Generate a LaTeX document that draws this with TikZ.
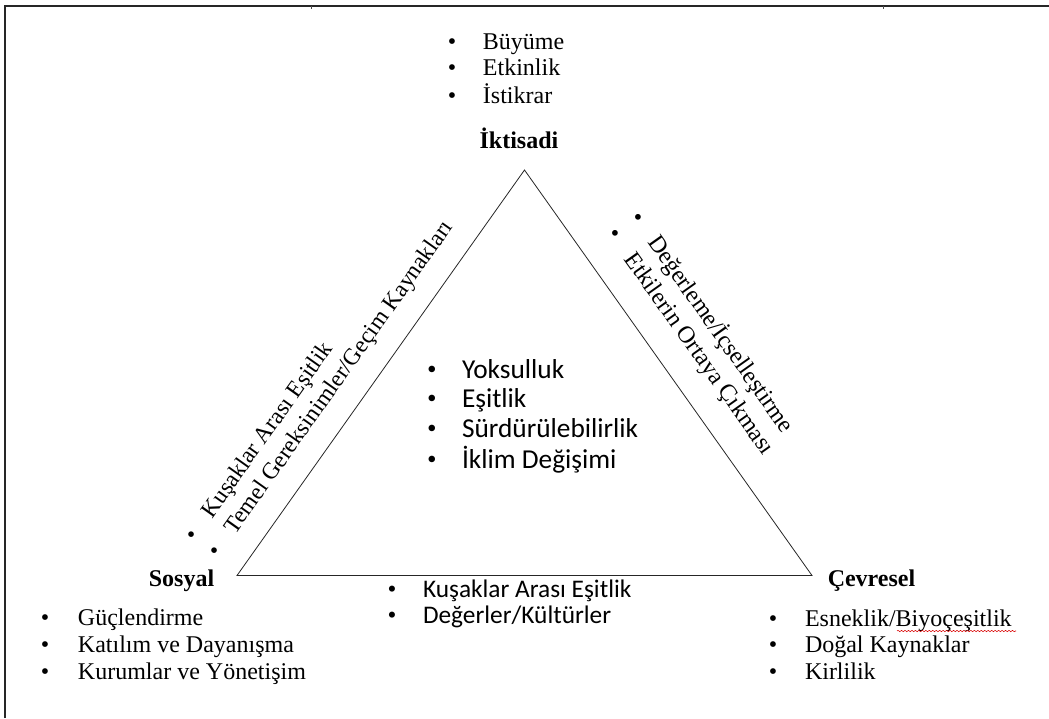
\documentclass[tikz,border=0pt]{standalone}
\usepackage{fontspec}
\setmainfont{Liberation Serif}
\newfontfamily\carlito{Carlito}
\usetikzlibrary{decorations.pathmorphing}

% one pixel of the drawing grid
\newlength\pxu
\setlength\pxu{0.75pt}
% serif bullet centred on the column start, text after a fixed gap
\newcommand\bitem[1]{\makebox[0pt]{\rmfamily\textbullet}\hspace{#1\pxu}}

\tikzset{
  every node/.style={inner sep=0pt, outer sep=0pt},
  heading/.style={anchor=base, font=\fontsize{18}{20}\selectfont\bfseries},
  blist/.style={anchor=base west, align=left},
  edge/.style={line width=0.6pt, draw=black!85},
}

\begin{document}
\begin{tikzpicture}[x=0.75pt, y=-0.75pt]
  \useasboundingbox (0,0) rectangle (1049,718);

  % page frame (top and left rules of the surrounding table)
  \draw[line width=1.6pt, black!85] (5,718) -- (5,6) -- (1049,6);
  \draw[line width=0.5pt, black!70] (311,6) -- (311,9);
  \draw[line width=0.5pt, black!70] (883,6) -- (883,9);

  % corners of the triangle
  \coordinate (apex) at (524.5,170);
  \coordinate (sv) at (237,575.5);
  \coordinate (cv) at (812,575.5);
  \draw[edge] (apex) -- (sv) -- (cv) -- cycle;

  % vertex headings
  \node[heading] (iktisadi) at (519,148) {İktisadi};
  \node[heading] (sosyal) at (181.5,586) {Sosyal};
  \node[heading] (cevresel) at (871.5,586) {Çevresel};

  % economic aims
  \node[blist, font=\fontsize{18}{19.9}\selectfont] (ecolist) at (452,49) {%
    \begin{tabular}[t]{@{}l@{}}
      \bitem{31}Büyüme\\
      \bitem{31}Etkinlik\\
      \bitem{31}İstikrar
    \end{tabular}};

  % social aims
  \node[blist, font=\fontsize{18}{20.6}\selectfont] (soclist) at (45,625) {%
    \begin{tabular}[t]{@{}l@{}}
      \bitem{33}Güçlendirme\\
      \bitem{33}Katılım ve Dayanışma\\
      \bitem{33}Kurumlar ve Yönetişim
    \end{tabular}};

  % environmental aims
  \node[blist, font=\fontsize{18}{19.9}\selectfont] (envlist) at (773,626) {%
    \begin{tabular}[t]{@{}l@{}}
      \bitem{32}Esneklik/Biyoçeşitlik\\
      \bitem{32}Doğal Kaynaklar\\
      \bitem{32}Kirlilik
    \end{tabular}};
  \draw[red!85!black, line width=0.4pt, decorate,
        decoration={snake, amplitude=0.5pt, segment length=2.6pt}]
    (897,631) -- (1016,631);

  % shared issues in the middle
  \node[blist, font=\carlito\fontsize{20.5}{22.35}\selectfont] (corelist) at (432,378) {%
    \begin{tabular}[t]{@{}l@{}}
      \bitem{30}Yoksulluk\\
      \bitem{30}Eşitlik\\
      \bitem{30}Sürdürülebilirlik\\
      \bitem{30}İklim Değişimi
    \end{tabular}};

  % social--environmental side
  \node[blist, font=\carlito\fontsize{19}{19.5}\selectfont] (baselist) at (392,597) {%
    \begin{tabular}[t]{@{}l@{}}
      \bitem{31}Kuşaklar Arası Eşitlik\\
      \bitem{31}Değerler/Kültürler
    \end{tabular}};

  % social--economic side
  \node[blist, rotate=54.63, font=\fontsize{17.6}{20.8}\selectfont] (leftlist) at (198,539.5) {%
    \begin{tabular}[t]{@{}l@{}}
      \bitem{25}Kuşaklar Arası Eşitlik\\
      \bitem{25}Temel Gereksinimler/Geçim Kaynakları
    \end{tabular}};

  % economic--environmental side
  \node[blist, rotate=-54.63, font=\fontsize{18}{21.5}\selectfont] (rightlist) at (632,221.5) {%
    \begin{tabular}[t]{@{}l@{}}
      \bitem{26}Değerleme/İçselleştirme\\
      \bitem{26}Etkilerin Ortaya Çıkması
    \end{tabular}};
\end{tikzpicture}
\end{document}
